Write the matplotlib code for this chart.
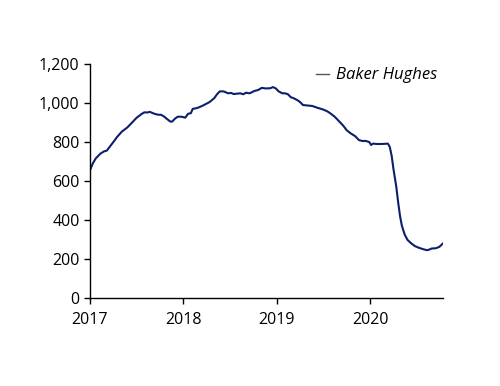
import matplotlib
matplotlib.use('Agg')
import matplotlib.pyplot as plt

### data (decimal years, rig count)
years = [2017.00, 2017.03, 2017.06, 2017.11, 2017.15, 2017.18, 2017.21, 2017.25, 2017.29, 2017.34,
         2017.40, 2017.45, 2017.50, 2017.55, 2017.58, 2017.62, 2017.64, 2017.69, 2017.73, 2017.76,
         2017.79, 2017.82, 2017.86, 2017.88, 2017.91, 2017.94, 2017.98, 2018.02, 2018.05, 2018.08,
         2018.10, 2018.15, 2018.20, 2018.24, 2018.28, 2018.33, 2018.36, 2018.39, 2018.43, 2018.48,
         2018.51, 2018.54, 2018.57, 2018.61, 2018.64, 2018.67, 2018.71, 2018.76, 2018.80, 2018.84,
         2018.88, 2018.93, 2018.96, 2018.99, 2019.02, 2019.06, 2019.09, 2019.12, 2019.15, 2019.18,
         2019.22, 2019.25, 2019.28, 2019.32, 2019.38, 2019.44, 2019.49, 2019.54, 2019.58, 2019.62,
         2019.67, 2019.71, 2019.75, 2019.79, 2019.84, 2019.88, 2019.92, 2019.95, 2019.99, 2020.01,
         2020.03, 2020.07, 2020.12, 2020.16, 2020.19, 2020.21, 2020.23, 2020.25, 2020.28, 2020.30,
         2020.32, 2020.34, 2020.37, 2020.40, 2020.44, 2020.48, 2020.52, 2020.57, 2020.61, 2020.63,
         2020.66, 2020.70, 2020.74, 2020.78]
rigs = [656, 690, 715, 740, 752, 756, 775, 800, 826, 853,
        875, 900, 925, 943, 952, 952, 955, 945, 940, 940,
        932, 920, 905, 905, 920, 930, 930, 925, 945, 948,
        970, 975, 985, 995, 1005, 1025, 1045, 1060, 1060, 1050,
        1052, 1046, 1048, 1050, 1045, 1053, 1050, 1062, 1067, 1078,
        1075, 1076, 1082, 1075, 1060, 1050, 1050, 1045, 1030, 1025,
        1015, 1005, 990, 988, 985, 975, 968, 958, 945, 930,
        905, 885, 860, 845, 830, 810, 805, 806, 800, 785,
        792, 790, 790, 791, 792, 775, 730, 660, 570, 490,
        420, 370, 325, 298, 280, 266, 258, 250, 245, 248,
        254, 255, 262, 280]
xticks = [2017, 2018, 2019, 2020]
yticks = [0, 200, 400, 600, 800, 1000, 1200]

plt.rcParams['font.family'] = ['Open Sans', 'DejaVu Sans']
fig = plt.figure(figsize=(5, 3.86), dpi=100)
ax = fig.add_axes([0.18, 0.228, 0.706, 0.606])
ax.plot(years, rigs, color='#0b1f6b', lw=1.5, label='Baker Hughes')
ax.set_xlim(2017, 2020.78)
ax.set_ylim(0, 1200)
ax.set_xticks(xticks)
ax.set_xticklabels([str(t) for t in xticks])
ax.set_yticks(yticks)
ax.set_yticklabels([f'{t:,}' for t in yticks])
ax.tick_params(labelsize=11.5, length=4, width=1, color='black')
ax.tick_params(axis='x', pad=6)
for s in ['top', 'right']:
    ax.spines[s].set_visible(False)
for s in ['left', 'bottom']:
    ax.spines[s].set_linewidth(1)

leg = ax.legend(loc='upper right', bbox_to_anchor=(1.025, 1.05), frameon=False,
                handlelength=0.8, handletextpad=0.4, prop={'style': 'italic', 'size': 12})
leg.get_lines()[0].set_color('#555555')
leg.get_lines()[0].set_linewidth(1)

fig.savefig('out.png', dpi=100)
